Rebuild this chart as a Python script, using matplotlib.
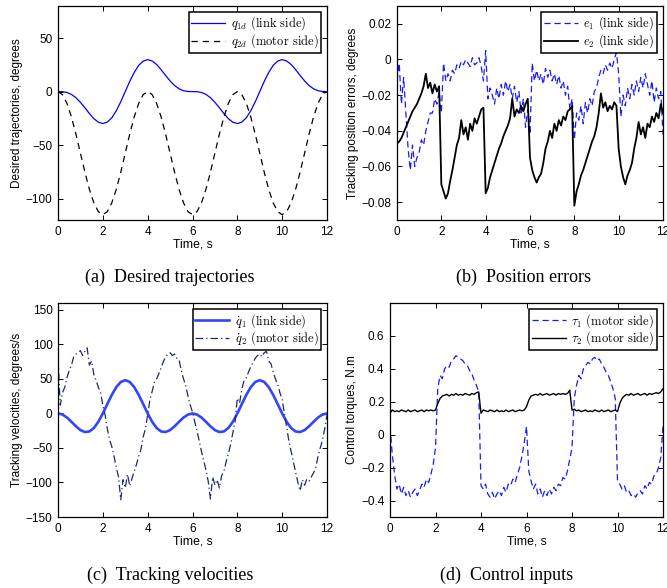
import numpy as np
import matplotlib
matplotlib.use("Agg")
import matplotlib.pyplot as plt

plt.rcParams['mathtext.fontset'] = 'cm'
plt.rcParams['font.family'] = ['Liberation Sans', 'DejaVu Sans']

# ---------------- data ----------------
t_smooth = np.linspace(0, 12, 61)   # 0.2 s step
t_fine = np.linspace(0, 12, 121)    # 0.1 s step

q1d = [0, -0.1, -0.8, -2.6, -5.7, -10.0, -15.1, -20.5, -25.3, -28.6, -29.9, -28.5, -24.5, -17.9, -9.5, 0,
       9.5, 17.9, 24.5, 28.5, 29.9, 28.6, 25.3, 20.5, 15.1, 10.0, 5.7, 2.6, 0.8, 0.1, 0,
       -0.1, -0.8, -2.6, -5.7, -10.0, -15.1, -20.5, -25.3, -28.6, -29.9, -28.5, -24.5, -17.9, -9.5, 0,
       9.5, 17.9, 24.5, 28.5, 29.9, 28.6, 25.3, 20.5, 15.1, 10.0, 5.7, 2.6, 0.8, 0.1, 0]

q2d = [0, -2.8, -11.0, -23.7, -39.7, -57.5, -75.3, -91.3, -104.0, -112.2, -115.0,
       -112.2, -104.0, -91.3, -75.3, -57.5, -39.7, -23.7, -11.0, -2.8, 0,
       -2.8, -11.0, -23.7, -39.7, -57.5, -75.3, -91.3, -104.0, -112.2, -115.0,
       -112.2, -104.0, -91.3, -75.3, -57.5, -39.7, -23.7, -11.0, -2.8, 0,
       -2.8, -11.0, -23.7, -39.7, -57.5, -75.3, -91.3, -104.0, -112.2, -115.0,
       -112.2, -104.0, -91.3, -75.3, -57.5, -39.7, -23.7, -11.0, -2.8, 0]

e1 = [-0.012, -0.002, -0.025, -0.010, -0.030, -0.050, -0.062, -0.048, -0.060, -0.055, -0.052,
      -0.045, -0.048, -0.040, -0.035, -0.030, -0.030, -0.022, -0.025, -0.018, -0.030,
      -0.002, -0.012, -0.008, -0.012, -0.006, -0.008, -0.003, -0.005, -0.001, -0.003,
      0.000, -0.002, -0.004, 0.001, -0.003, -0.002, 0.001, -0.004, -0.012, 0.005,
      -0.022, -0.016, -0.020, -0.025, -0.016, -0.022, -0.014, -0.020, -0.012, -0.018,
      -0.014, -0.022, -0.015, -0.024, -0.018, -0.030, -0.022, -0.038, -0.028, -0.042,
      -0.002, -0.012, -0.006, -0.012, -0.008, -0.014, -0.005, -0.010, -0.006, -0.012,
      -0.008, -0.014, -0.009, -0.016, -0.012, -0.020, -0.015, -0.028, -0.022, -0.045,
      -0.030, -0.034, -0.026, -0.036, -0.024, -0.030, -0.022, -0.026, -0.018, -0.016,
      -0.010, -0.006, -0.008, -0.003, -0.006, -0.002, -0.005, 0.000, 0.004, -0.008,
      -0.032, -0.020, -0.026, -0.016, -0.022, -0.014, -0.020, -0.012, -0.018, -0.010,
      -0.016, -0.008, -0.014, -0.020, -0.012, -0.024, -0.016, -0.022, -0.018, -0.042]

e2 = [-0.047, -0.046, -0.044, -0.041, -0.038, -0.035, -0.032, -0.029, -0.027, -0.025, -0.022,
      -0.019, -0.015, -0.008, -0.016, -0.013, -0.019, -0.014, -0.018, -0.015, -0.070,
      -0.074, -0.078, -0.075, -0.068, -0.062, -0.055, -0.048, -0.044, -0.034, -0.042,
      -0.038, -0.045, -0.036, -0.040, -0.033, -0.036, -0.032, -0.028, -0.027, -0.075,
      -0.072, -0.066, -0.062, -0.058, -0.054, -0.050, -0.047, -0.043, -0.040, -0.037,
      -0.033, -0.022, -0.032, -0.028, -0.030, -0.026, -0.029, -0.025, -0.022, -0.055,
      -0.062, -0.066, -0.069, -0.066, -0.064, -0.058, -0.050, -0.046, -0.040, -0.044,
      -0.036, -0.040, -0.034, -0.037, -0.032, -0.034, -0.029, -0.028, -0.026, -0.082,
      -0.074, -0.070, -0.065, -0.062, -0.058, -0.054, -0.050, -0.046, -0.043, -0.038,
      -0.030, -0.019, -0.027, -0.024, -0.029, -0.026, -0.028, -0.024, -0.026, -0.050,
      -0.060, -0.066, -0.070, -0.065, -0.062, -0.058, -0.050, -0.044, -0.035, -0.042,
      -0.038, -0.044, -0.036, -0.038, -0.032, -0.035, -0.030, -0.033, -0.025, -0.030]

q1dot = [0, -1.6, -5.9, -12.1, -18.6, -24.1, -26.9, -26.1, -21.1, -12.1, 0,
         13.6, 26.9, 38.1, 45.6, 48.2, 45.6, 38.1, 26.9, 13.6, 0,
         -12.1, -21.1, -26.1, -26.9, -24.1, -18.6, -12.1, -5.9, -1.6, 0,
         -1.6, -5.9, -12.1, -18.6, -24.1, -26.9, -26.1, -21.1, -12.1, 0,
         13.6, 26.9, 38.1, 45.6, 48.2, 45.6, 38.1, 26.9, 13.6, 0,
         -12.1, -21.1, -26.1, -26.9, -24.1, -18.6, -12.1, -5.9, -1.6, 0]

q2dot = [80, 12, 30, 38, 52, 62, 70, 82, 86, 88, 91, 84, 90, 95, 70, 76, 56, 48, 38, 30, 12,
         -2, -22, -38, -48, -62, -78, -92, -125, -96, -108, -88, -105, -94, -84, -74, -62, -52, -34, -22, -2,
         20, 32, 45, 50, 58, 66, 75, 82, 86, 88, 84, 86, 80, 78, 62, 50, 40, 25, 12, 2,
         -12, -25, -40, -55, -68, -82, -98, -124, -92, -104, -96, -108, -90, -84, -70, -58, -45, -28, -12, 22,
         15, 35, 48, 52, 60, 68, 74, 80, 84, 86, 82, 88, 90, 76, 72, 60, 50, 42, 30, 20,
         0, -20, -40, -55, -70, -85, -100, -112, -96, -104, -95, -98, -92, -86, -78, -62, -50, -38, -22, -2]

tau1 = [0.05, -0.12, -0.24, -0.33, -0.30, -0.36, -0.32, -0.37, -0.34, -0.38, -0.35,
        -0.33, -0.37, -0.34, -0.30, -0.32, -0.27, -0.29, -0.24, -0.18, -0.08,
        0.28, 0.36, 0.34, 0.40, 0.42, 0.41, 0.45, 0.46, 0.48, 0.47,
        0.46, 0.45, 0.43, 0.42, 0.39, 0.37, 0.33, 0.30, 0.26, -0.31,
        -0.33, -0.30, -0.36, -0.38, -0.35, -0.39, -0.36, -0.34, -0.37, -0.32,
        -0.35, -0.30, -0.31, -0.27, -0.29, -0.24, -0.20, -0.13, -0.05, 0.05,
        -0.22, -0.28, -0.33, -0.30, -0.36, -0.33, -0.38, -0.34, -0.37, -0.33,
        -0.36, -0.32, -0.34, -0.30, -0.31, -0.26, -0.27, -0.22, -0.15, -0.08,
        0.22, 0.30, 0.36, 0.34, 0.40, 0.42, 0.44, 0.43, 0.46, 0.47,
        0.45, 0.46, 0.43, 0.41, 0.38, 0.36, 0.32, 0.28, 0.22, -0.28,
        -0.30, -0.33, -0.31, -0.35, -0.34, -0.37, -0.36, -0.38, -0.35, -0.34,
        -0.36, -0.31, -0.33, -0.29, -0.30, -0.25, -0.24, -0.20, -0.14, 0.05]

tau2 = [0.13, 0.15, 0.14, 0.145, 0.14, 0.15, 0.145, 0.14, 0.15, 0.14, 0.145,
        0.15, 0.14, 0.145, 0.15, 0.14, 0.15, 0.145, 0.15, 0.145, 0.15,
        0.19, 0.22, 0.235, 0.24, 0.245, 0.235, 0.245, 0.24, 0.25, 0.24,
        0.245, 0.24, 0.25, 0.245, 0.24, 0.25, 0.245, 0.255, 0.26, 0.13,
        0.15, 0.145, 0.14, 0.15, 0.145, 0.14, 0.15, 0.14, 0.145, 0.14,
        0.15, 0.14, 0.145, 0.15, 0.14, 0.145, 0.15, 0.145, 0.15, 0.17,
        0.21, 0.235, 0.24, 0.245, 0.24, 0.25, 0.24, 0.245, 0.25, 0.24,
        0.245, 0.25, 0.24, 0.25, 0.245, 0.25, 0.245, 0.25, 0.27, 0.15,
        0.155, 0.145, 0.15, 0.14, 0.145, 0.15, 0.14, 0.145, 0.14, 0.15,
        0.145, 0.14, 0.15, 0.14, 0.145, 0.15, 0.14, 0.145, 0.15, 0.14,
        0.19, 0.22, 0.235, 0.245, 0.24, 0.25, 0.24, 0.245, 0.25, 0.24,
        0.245, 0.25, 0.24, 0.25, 0.245, 0.25, 0.255, 0.25, 0.26, 0.28]

x_ticks = [0, 2, 4, 6, 8, 10, 12]
captions = ["(a)  Desired trajectories", "(b)  Position errors",
            "(c)  Tracking velocities", "(d)  Control inputs"]
ylabels = ["Desired trajectories, degrees", "Tracking position errors, degrees",
           "Tracking velocities, degrees/s", "Control torques, N.m"]

# ---------------- figure ----------------
W, H = 667, 588
fig = plt.figure(figsize=(W / 100, H / 100), dpi=100)

def box(l, r, top, bot):
    return [l / W, 1 - bot / H, (r - l) / W, (bot - top) / H]

axa = fig.add_axes(box(58, 327, 6, 220))
axb = fig.add_axes(box(397, 663, 6, 220))
axc = fig.add_axes(box(58, 327, 303, 517))
axd = fig.add_axes(box(390, 663, 303, 517))

tick_fs = 8.5
xlab_fs = 8.8
ylab_fs = 8.5
leg_prop = {'family': 'cmr10', 'size': 9.0}

def style(ax, ylim, yticks, ylabel):
    ax.set_xlim(0, 12)
    ax.set_ylim(*ylim)
    ax.set_xticks(x_ticks)
    ax.set_yticks(yticks)
    ax.tick_params(direction='in', top=True, right=True, length=3.5, width=0.7,
                   labelsize=tick_fs, pad=4)
    for s in ax.spines.values():
        s.set_linewidth(0.9)
    ax.set_xlabel("Time, s", fontsize=xlab_fs, labelpad=1)
    ax.set_ylabel(ylabel, fontsize=ylab_fs, labelpad=2)

def legend(ax):
    lg = ax.legend(loc='upper right', prop=leg_prop, fancybox=False, framealpha=1,
                   edgecolor='black', handlelength=2.7, handletextpad=0.45,
                   borderpad=0.2, labelspacing=0.0, borderaxespad=0.5,
                   handleheight=0.5)
    lg.get_frame().set_linewidth(1.1)

# (a)
axa.plot(t_smooth, q1d, color='#0000ff', lw=0.9, label=r'$q_{1d}$ (link side)')
axa.plot(t_smooth, q2d, color='black', lw=0.9, ls=(0, (5, 4)), label=r'$q_{2d}$ (motor side)')
style(axa, (-120, 80), [-100, -50, 0, 50], ylabels[0])
legend(axa)

# (b)
axb.plot(t_fine, e1, color='#1a1aff', lw=0.9, ls=(0, (5, 3)), label=r'$e_1$ (link side)')
axb.plot(t_fine, e2, color='black', lw=1.3, label=r'$e_2$ (link side)')
style(axb, (-0.09, 0.03), [-0.08, -0.06, -0.04, -0.02, 0, 0.02], ylabels[1])
axb.set_yticklabels(['\u22120.08', '\u22120.06', '\u22120.04', '\u22120.02', '0', '0.02'])
legend(axb)

# (c)
axc.plot(t_smooth, q1dot, color='#3344ff', lw=1.9, label=r'$\dot{q}_1$ (link side)')
axc.plot(t_fine, q2dot, color='#1c2a6e', lw=0.9, ls=(0, (6, 2.5, 1, 2.5)), label=r'$\dot{q}_2$ (motor side)')
style(axc, (-150, 160), [-150, -100, -50, 0, 50, 100, 150], ylabels[2])
legend(axc)

# (d)
axd.plot(t_fine, tau1, color='#1a1aff', lw=0.9, ls=(0, (5, 3)), label=r'$\tau_1$ (motor side)')
axd.plot(t_fine, tau2, color='black', lw=1.0, label=r'$\tau_2$ (motor side)')
style(axd, (-0.5, 0.8), [-0.4, -0.2, 0, 0.2, 0.4, 0.6], ylabels[3])
axd.set_yticklabels(['\u22120.4', '\u22120.2', '0', '0.2', '0.4', '0.6'])
legend(axd)

# captions
cap_kw = dict(ha='center', va='center', fontsize=13, family='Liberation Serif')
fig.text(170 / W, 1 - 277 / H, captions[0], **cap_kw)
fig.text(524 / W, 1 - 277 / H, captions[1], **cap_kw)
fig.text(170 / W, 1 - 575 / H, captions[2], **cap_kw)
fig.text(507 / W, 1 - 575 / H, captions[3], **cap_kw)

fig.savefig("out.png", dpi=100)
